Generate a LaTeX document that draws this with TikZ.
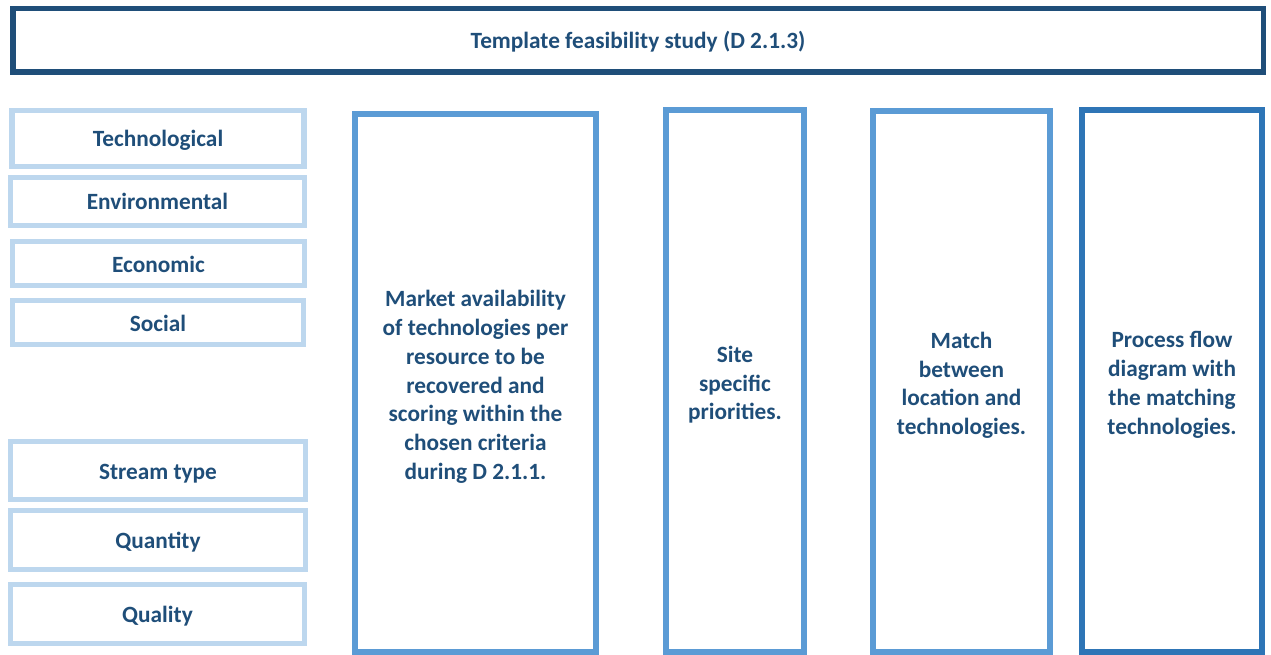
\documentclass[tikz,border=0pt]{standalone}
\usepackage{fontspec}
\setmainfont{Carlito}
\definecolor{navy}{HTML}{1F4E79}
\definecolor{paleblue}{HTML}{BDD7EE}
\definecolor{midblue}{HTML}{5B9BD5}
\definecolor{deepblue}{HTML}{2E75B6}
% taller first line for the multi-line stage labels
\newcommand{\firstline}{\rule{0pt}{24pt}}
\begin{document}
\begin{tikzpicture}[x=1pt,y=-1pt,
  every node/.style={inner sep=0pt, font=\fontsize{23.3}{28.7}\selectfont\bfseries, text=navy, align=center,
    % fixed line struts so every label sits on the same baseline offset
    execute at begin node={\rule{0pt}{21pt}},
    execute at end node={\rule[-4pt]{0pt}{4pt}}},
  titlebox/.style={draw=navy, line width=5.5pt, rectangle},
  criterion/.style={draw=paleblue, line width=5.3pt, rectangle},
  stagebox/.style={draw=midblue, line width=5.6pt, rectangle},
  finalbox/.style={draw=deepblue, line width=5.6pt, rectangle}]
  \useasboundingbox (0,0) rectangle (1271,655);

  % header
  \node[titlebox, minimum width=1250.5pt, minimum height=63.5pt] (title) at (638,40.5) {Template feasibility study (D 2.1.3)};

  % criteria column
  \node[criterion, minimum width=292pt, minimum height=55.6pt] (tech) at (158,138.5) {Technological};
  \node[criterion, minimum width=294pt, minimum height=48pt] (env) at (157.5,201.5) {Environmental};
  \node[criterion, minimum width=292pt, minimum height=44pt] (eco) at (158.5,263.5) {Economic};
  \node[criterion, minimum width=291pt, minimum height=44pt] (soc) at (158,322.5) {Social};
  \node[criterion, minimum width=295pt, minimum height=58pt] (stream) at (158,470.5) {Stream type};
  \node[criterion, minimum width=295pt, minimum height=59pt] (quant) at (158,540) {Quantity};
  \node[criterion, minimum width=294pt, minimum height=59pt] (qual) at (157.5,614) {Quality};

  % study stages
  \node[stagebox, minimum width=241pt, minimum height=538pt] (market) at (475.5,383)
    {\firstline Market availability\\of technologies per\\resource to be\\recovered and\\scoring within the\\chosen criteria\\during D 2.1.1.};
  \node[stagebox, minimum width=138pt, minimum height=542pt] (site) at (735,381)
    {\firstline Site\\specific\\priorities.};
  \node[stagebox, minimum width=177pt, minimum height=541pt] (match) at (961.5,381.5)
    {\firstline Match\\between\\location and\\technologies.};
  \node[finalbox, minimum width=180pt, minimum height=542pt] (flow) at (1172,381)
    {\firstline Process flow\\diagram with\\the matching\\technologies.};
\end{tikzpicture}
\end{document}
